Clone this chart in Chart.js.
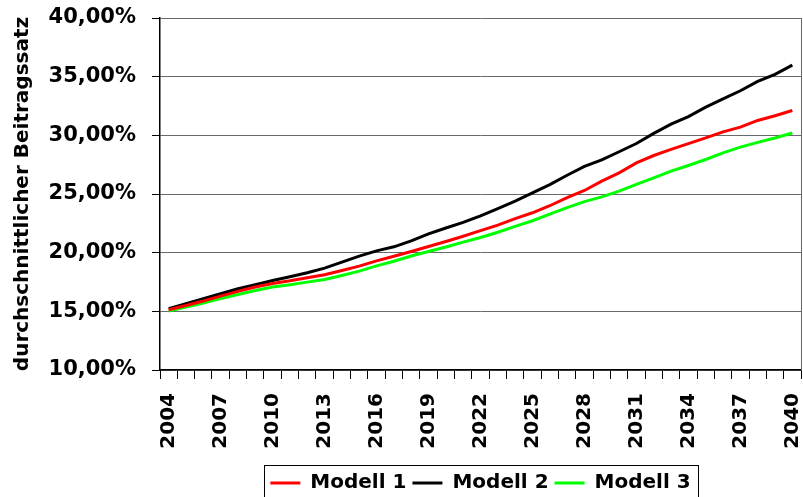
<!DOCTYPE html>
<html>
<head>
<meta charset="utf-8">
<script src="https://cdn.jsdelivr.net/npm/chart.js@4/dist/chart.umd.min.js"></script>
<style>
  html, body { margin: 0; padding: 0; background: #fff; }
  #wrap { width: 803px; height: 497px; }
</style>
</head>
<body>
<div id="wrap"><canvas id="mychart" width="803" height="497"></canvas></div>
<script>
var years = [];
for (var y = 2004; y <= 2040; y++) years.push(String(y));

var modell1 = [15.14, 15.50, 15.88, 16.30, 16.70, 17.07, 17.38, 17.60, 17.86, 18.12,
  18.48, 18.85, 19.30, 19.69, 20.10, 20.53, 20.95, 21.40, 21.88, 22.35,
  22.90, 23.40, 24.00, 24.70, 25.30, 26.10, 26.80, 27.65, 28.28, 28.80,
  29.30, 29.78, 30.30, 30.70, 31.27, 31.67, 32.12];
var modell2 = [15.23, 15.65, 16.08, 16.50, 16.93, 17.27, 17.63, 17.95, 18.29, 18.68,
  19.20, 19.70, 20.15, 20.50, 21.00, 21.60, 22.10, 22.58, 23.14, 23.76,
  24.40, 25.10, 25.80, 26.60, 27.35, 27.90, 28.60, 29.30, 30.17, 30.96,
  31.60, 32.40, 33.10, 33.80, 34.60, 35.20, 35.98];
var modell3 = [15.03, 15.37, 15.70, 16.08, 16.44, 16.78, 17.07, 17.27, 17.49, 17.72,
  18.06, 18.43, 18.87, 19.27, 19.72, 20.10, 20.48, 20.90, 21.29, 21.74,
  22.24, 22.72, 23.28, 23.84, 24.35, 24.75, 25.25, 25.82, 26.38, 26.95,
  27.43, 27.94, 28.50, 29.00, 29.40, 29.77, 30.20];

var yMin = 10, yMax = 40, yStep = 5;
var yTitle = 'durchschnittlicher Beitragssatz';

var font = { family: 'DejaVu Sans', weight: 'bold', size: 20 };

// box around the legend and right edge of the plot
var framePlugin = {
  id: 'frame',
  afterDraw: function (chart) {
    var c = chart.ctx, a = chart.chartArea;
    c.save();
    c.strokeStyle = '#666';
    c.lineWidth = 1;
    c.beginPath();
    c.moveTo(a.right + 0.5, a.top);
    c.lineTo(a.right + 0.5, a.bottom);
    c.stroke();
    var hb = chart.legend.legendHitBoxes;
    if (hb && hb.length) {
      var first = hb[0], last = hb[hb.length - 1];
      var cy = first.top + first.height / 2;
      c.strokeStyle = '#000';
      c.strokeRect(Math.round(first.left - 6) + 0.5, Math.round(cy - 18) + 0.5,
        Math.round(last.left + last.width - first.left + 14), 60);
    }
    c.restore();
  }
};

var ctx = document.getElementById('mychart').getContext('2d');
var chart = new Chart(ctx, {
  type: 'line',
  data: {
    labels: years,
    datasets: [
      { label: 'Modell 1', data: modell1, borderColor: '#ff0000', backgroundColor: '#ff0000', borderWidth: 3 },
      { label: 'Modell 2', data: modell2, borderColor: '#000000', backgroundColor: '#000000', borderWidth: 3 },
      { label: 'Modell 3', data: modell3, borderColor: '#00ff00', backgroundColor: '#00ff00', borderWidth: 3 }
    ]
  },
  options: {
    responsive: false,
    animation: false,
    elements: {
      line: { borderWidth: 3, tension: 0 },
      point: { radius: 0 }
    },
    layout: { padding: { top: 18, right: 2, left: 0, bottom: -6 } },
    plugins: {
      tooltip: { enabled: false },
      legend: {
        position: 'bottom',
        fullSize: false,
        labels: {
          color: '#000',
          font: font,
          usePointStyle: true,
          pointStyle: 'line',
          pointStyleWidth: 30,
          padding: 6
        }
      }
    },
    scales: {
      x: {
        type: 'category',
        offset: true,
        afterFit: function (s) { s.height = 97; s.paddingLeft = 0; s.paddingRight = 0; },
        grid: { offset: true, drawOnChartArea: false, tickLength: 9, color: '#000' },
        border: { color: '#000', width: 1.5 },
        ticks: {
          autoSkip: false,
          maxRotation: 90,
          minRotation: 90,
          padding: 14,
          color: '#000',
          font: font,
          callback: function (v, i) { return i % 3 === 0 ? years[i] : ''; }
        }
      },
      y: {
        min: yMin,
        max: yMax,
        afterFit: function (s) { s.width = 160; s.paddingTop = 0; s.paddingBottom = 0; },
        title: { display: true, text: yTitle, color: '#000', font: font, padding: { top: 11, bottom: 0 } },
        grid: { color: '#6a6a6a', lineWidth: 1, tickLength: 8, tickColor: '#000' },
        border: { color: '#000', width: 1.5 },
        ticks: {
          stepSize: yStep,
          padding: 16,
          color: '#000',
          font: { family: 'DejaVu Sans', weight: 'bold', size: 21 },
          callback: function (v) { return v.toFixed(2).replace('.', ',') + '%'; }
        }
      }
    }
  },
  plugins: [framePlugin]
});
</script>
</body>
</html>
